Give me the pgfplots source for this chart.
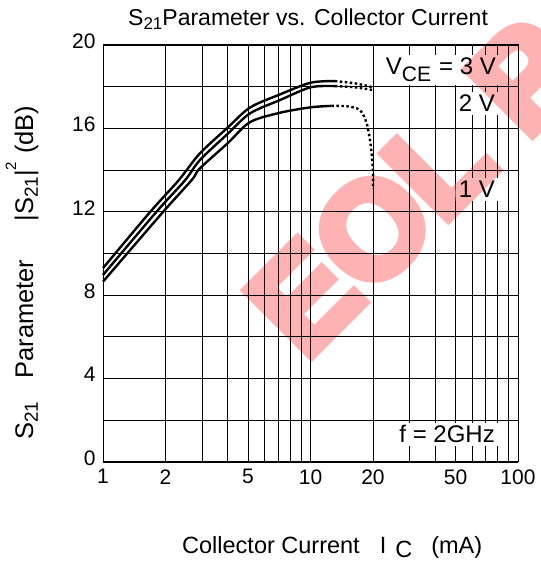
\documentclass[border=0pt]{standalone}
\usepackage{pgfplots}
\pgfplotsset{compat=1.18}
\usepackage{fontspec}
\setmainfont{Liberation Sans}
\newfontfamily\wmfont[FakeBold=7]{Liberation Sans Bold}
\definecolor{eolpink}{RGB}{255,178,178}

% watermark, drawn twice: under the grid and again inside the white label boxes
\newcommand\wm{\node[anchor=base west, inner sep=0, rotate=45, text=eolpink,
  font=\fontsize{134}{138}\wmfont] at (305,214) {EOL P};}
\newcommand\anA{V\raisebox{-7pt}{\fontsize{21}{24}\selectfont CE}\hspace{8pt}= 3 V}

\begin{document}
\begin{tikzpicture}[x=1pt,y=1pt]
\useasboundingbox (0,0) rectangle (541,576);
\wm
\begin{axis}[
  at={(103pt,114pt)}, anchor=south west,
  scale only axis, width=415pt, height=417pt,
  xmode=log, xmin=1, xmax=100, ymin=0, ymax=20,
  xtick={1,2,3,4,5,6,7,8,9,10,20,30,40,50,60,70,80,90,100},
  xticklabels={1,2,,,5,,,,,10,20,,,50,,,,,100\hspace{10pt}},
  ytick={0,2,...,20},
  yticklabels={0,,4,,8,,12,,16,,20},
  grid=major,
  major grid style={black, line width=0.9pt},
  axis line style={black, line width=1pt},
  major tick length=0pt,
  tick label style={font=\fontsize{21}{25}\selectfont},
  xticklabel style={yshift=-4pt},
  yticklabel style={xshift=-4pt, yshift=4pt},
  clip=false,
]
% 3 V
\addplot[black, line width=2.4pt, smooth] coordinates {
  (1,9.3) (1.69,12.0) (2.31,13.5) (2.93,14.8) (4,16.05) (5.11,17.0)
  (7.13,17.63) (10,18.19) (13.1,18.27)};
\addplot[black, line width=2.4pt, smooth, dash pattern=on 2.5pt off 2.5pt] coordinates {
  (13.1,18.27) (16.4,18.16) (20,17.97)};
% 2 V
\addplot[black, line width=2.4pt, smooth] coordinates {
  (1,8.97) (1.81,12.0) (2.48,13.5) (2.93,14.48) (4,15.75) (5.11,16.72)
  (7.13,17.36) (10,17.97) (13.1,18.03)};
\addplot[black, line width=2.4pt, smooth, dash pattern=on 2.5pt off 2.5pt] coordinates {
  (13.1,18.03) (16.4,17.97) (20,17.84)};
% 1 V
\addplot[black, line width=2.4pt, smooth] coordinates {
  (1,8.65) (1.95,12.0) (2.68,13.53) (2.93,14.08) (4,15.3) (5.11,16.3)
  (7.13,16.75) (10,17.01) (12.6,17.08)};
\addplot[black, line width=2.4pt, smooth, tension=0.5, dash pattern=on 2.5pt off 2.5pt] coordinates {
  (12.6,17.08) (15,17.06) (17.3,16.88) (18.66,16.24) (19.5,15.2) (20,14.0) (20,13.1)};
\end{axis}

% title and axis labels
\node[anchor=base west, inner sep=0, font=\fontsize{23}{27}\selectfont] at (128,550)
  {S\raisebox{-4pt}{\fontsize{17}{19}\selectfont 21}Parameter vs. Collector Current};
\node[anchor=base west, inner sep=0, font=\fontsize{23.5}{27}\selectfont] at (182,23)
  {Collector Current\hspace{20pt}I\hspace{9pt}\raisebox{-5pt}{C}\hspace{19pt}(mA)};
\node[anchor=base west, inner sep=0, rotate=90, font=\fontsize{25.5}{29}\selectfont] at (33,136)
  {S\raisebox{-5pt}{\fontsize{19}{21}\selectfont 21}\hspace{23pt}Parameter\hspace{38pt}|S\raisebox{-5pt}{\fontsize{19}{21}\selectfont 21}|\raisebox{17pt}{\fontsize{15}{17}\selectfont 2}\hspace{8pt}(dB)};

% annotation boxes hide the grid
\begin{scope}[every node/.style={fill=white, text=white, inner sep=3pt, font=\fontsize{24}{28}\selectfont}]
\node[anchor=base east] (a1) at (499,501) {\anA};
\node[anchor=base east] (a2) at (498,464) {2 V};
\node[anchor=base east] (a3) at (498,378) {1 V};
\node[anchor=base east] (a4) at (498,133) {f = 2GHz};
\end{scope}
\begin{scope}
\clip (a1.south west) rectangle (a1.north east) (a2.south west) rectangle (a2.north east)
      (a3.south west) rectangle (a3.north east) (a4.south west) rectangle (a4.north east);
\wm
\end{scope}
\begin{scope}[every node/.style={inner sep=3pt, font=\fontsize{24}{28}\selectfont}]
\node[anchor=base east] at (499,501) {\anA};
\node[anchor=base east] at (498,464) {2 V};
\node[anchor=base east] at (498,378) {1 V};
\node[anchor=base east] at (498,133) {f = 2GHz};
\end{scope}
\end{tikzpicture}
\end{document}
